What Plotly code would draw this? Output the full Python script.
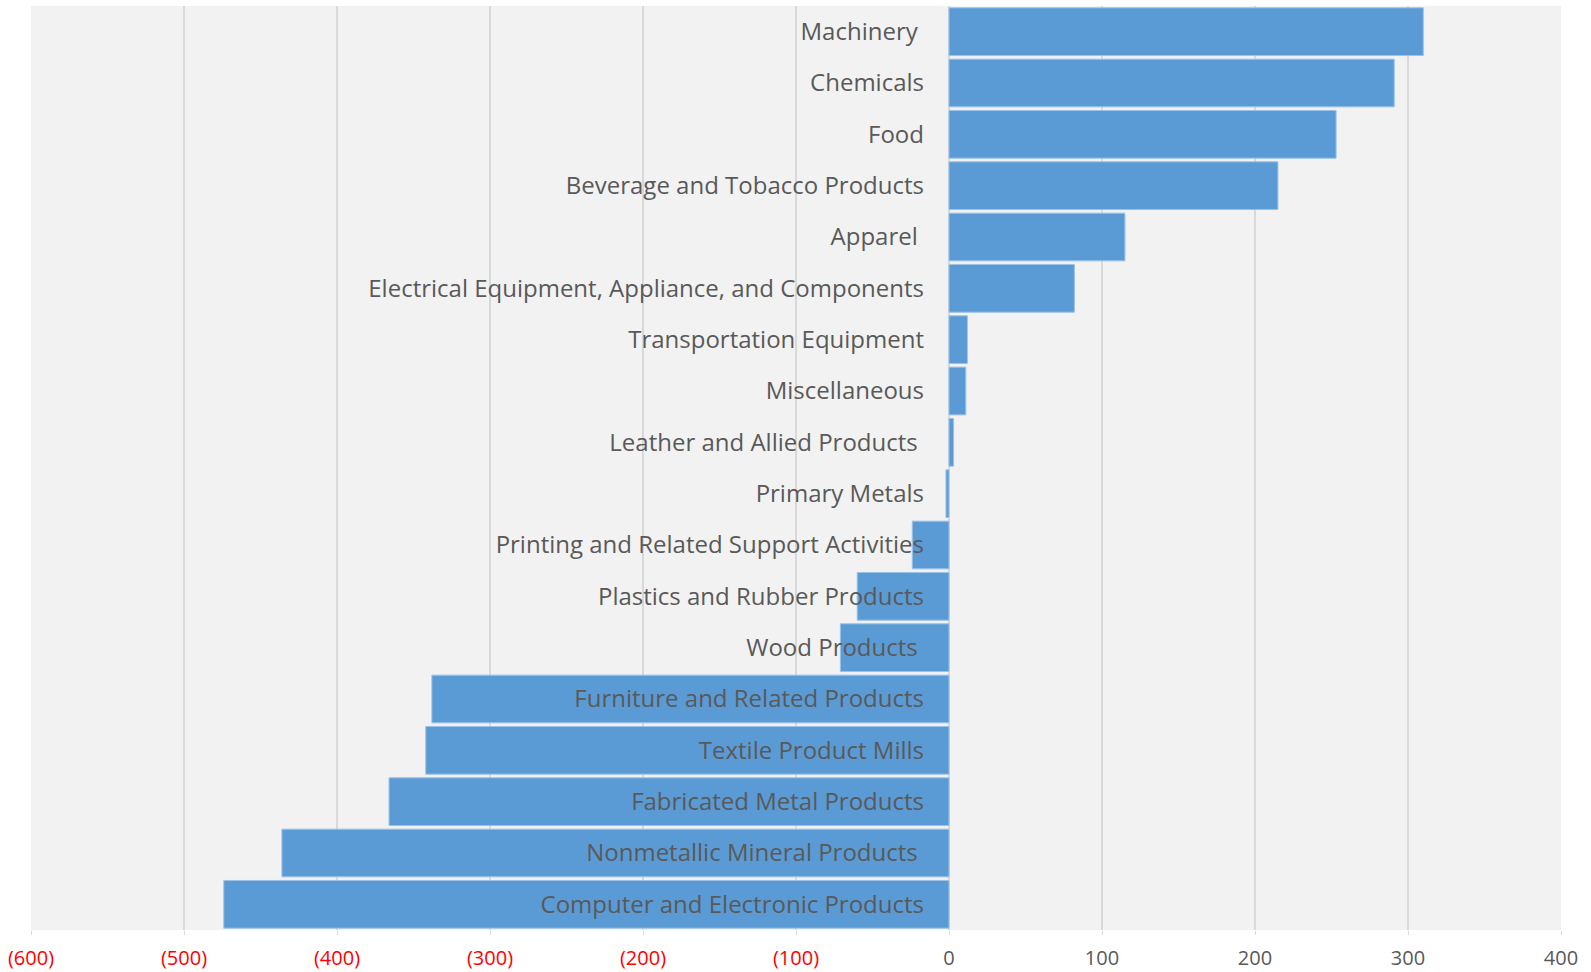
import plotly.graph_objects as go

categories = [
    "Machinery\u00a0", "Chemicals", "Food", "Beverage and Tobacco Products", "Apparel\u00a0",
    "Electrical Equipment, Appliance, and Components", "Transportation Equipment",
    "Miscellaneous", "Leather and Allied Products\u00a0", "Primary Metals",
    "Printing and Related Support Activities", "Plastics and Rubber Products",
    "Wood Products\u00a0", "Furniture and Related Products", "Textile Product Mills",
    "Fabricated Metal Products", "Nonmetallic Mineral Products\u00a0",
    "Computer and Electronic Products",
]
values = [310, 291, 253, 215, 115, 82, 12, 11, 3, -2, -24, -60, -71, -338, -342, -366, -436, -474]

tick_vals = [-600, -500, -400, -300, -200, -100, 0, 100, 200, 300, 400]
tick_text = ["(600)", "(500)", "(400)", "(300)", "(200)", "(100)", "0", "100", "200", "300", "400"]
tick_labels = [
    f'<span style="color:#FF0000">{t}</span>' if v < 0 else t
    for v, t in zip(tick_vals, tick_text)
]

fig = go.Figure(
    go.Bar(
        x=values,
        y=categories,
        orientation="h",
        marker=dict(color="#5B9BD5", line=dict(color="#9CC2E8", width=1)),
    )
)

fig.update_layout(
    width=1591,
    height=972,
    margin=dict(l=31, r=30, t=6, b=42),
    paper_bgcolor="white",
    plot_bgcolor="#F2F2F2",
    bargap=0.07,
    showlegend=False,
    font=dict(family="Open Sans", color="#595959"),
    xaxis=dict(
        range=[-600, 400],
        tickvals=tick_vals,
        ticktext=tick_labels,
        tickfont=dict(size=20, color="#595959"),
        showgrid=True,
        gridcolor="#D9D9D9",
        gridwidth=2,
        zeroline=True,
        zerolinecolor="#D9D9D9",
        zerolinewidth=2,
        showline=False,
        ticks="outside",
        ticklen=4,
        tickcolor="#D9D9D9",
        ticklabelstandoff=6,
        automargin=False,
        domain=[0, 1],
    ),
    yaxis=dict(
        categoryorder="array",
        categoryarray=categories,
        autorange="reversed",
        anchor="free",
        position=0.6,
        showline=False,
        showgrid=False,
        ticks="",
        ticklabelstandoff=25,
        automargin=False,
        tickfont=dict(size=24, color="#595959"),
    ),
)

fig.write_html(
    "out.html",
    config={"displayModeBar": False},
    post_script="document.body.style.margin='0';document.body.style.overflow='hidden';",
)
